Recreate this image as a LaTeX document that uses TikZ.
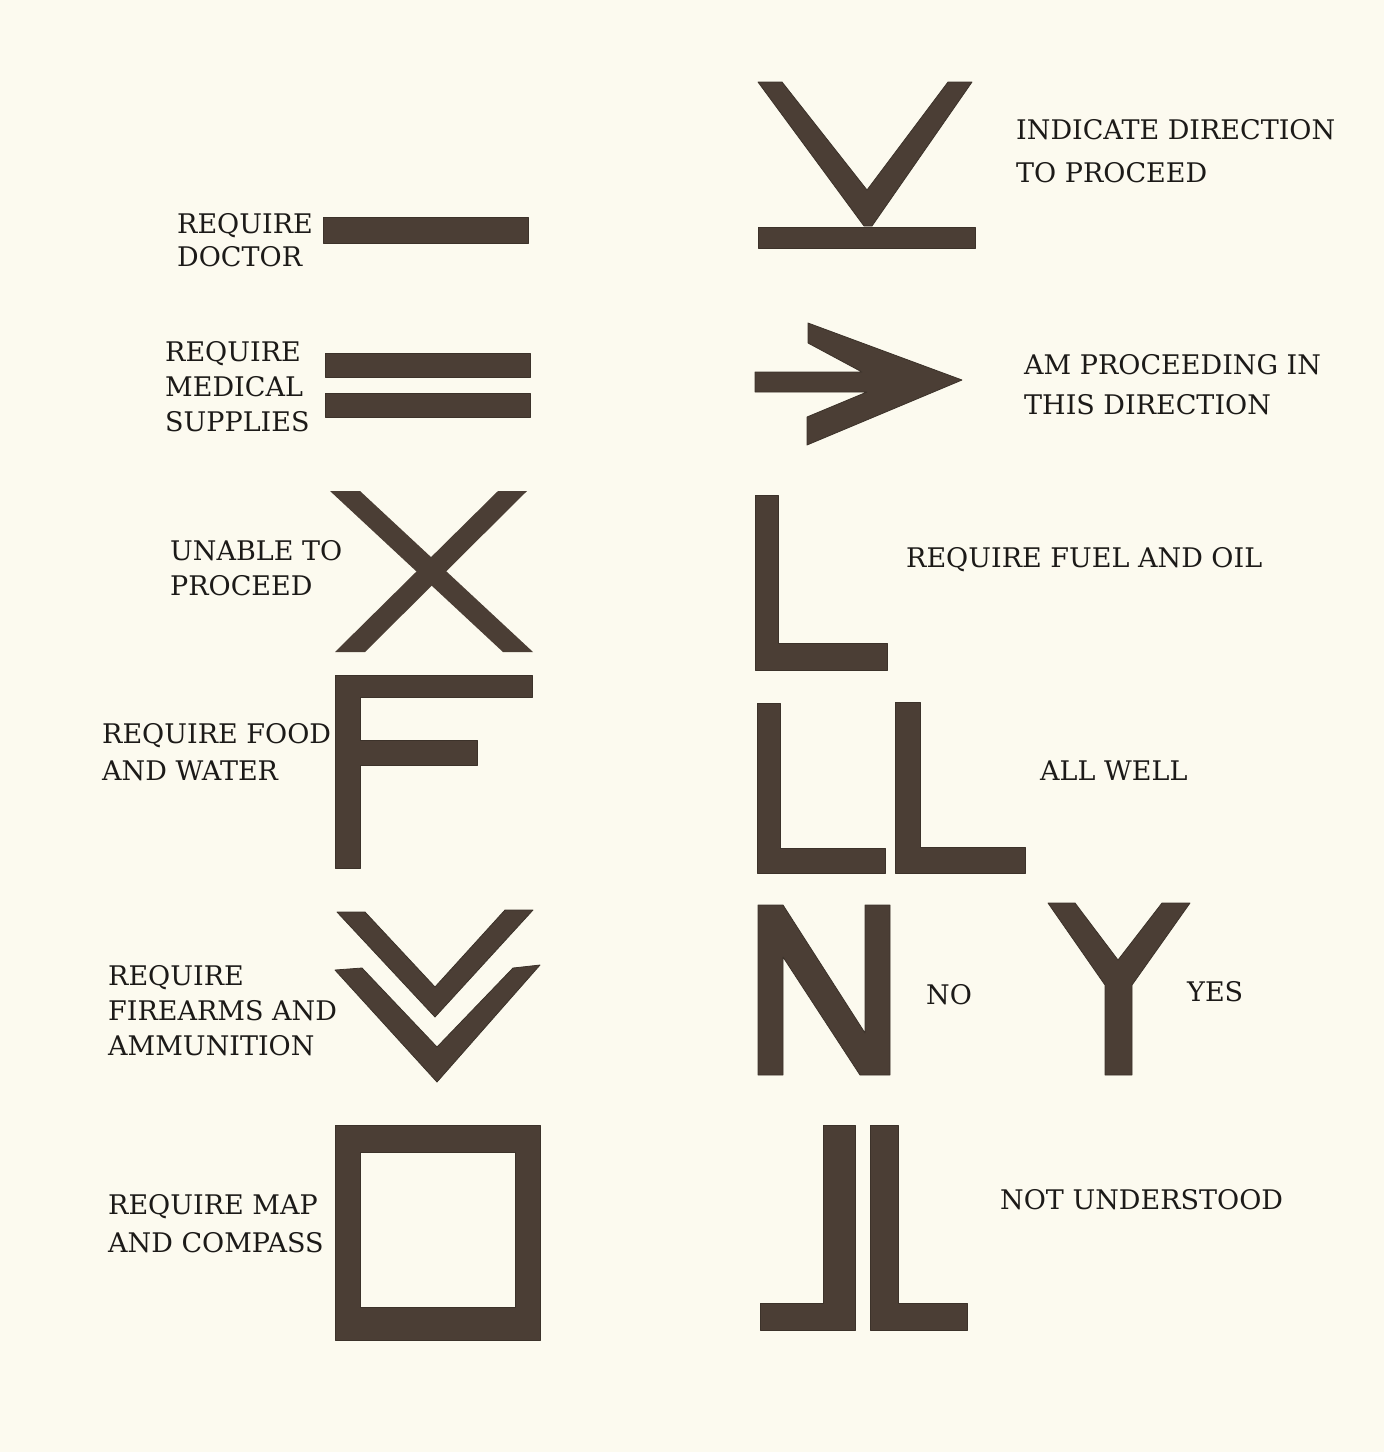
\documentclass[tikz,border=0pt]{standalone}
\usepackage{fontspec}
\setmainfont{DejaVu Serif}
\usepackage{tikz}
\definecolor{paper}{HTML}{FCFAEF}
\definecolor{sig}{HTML}{4B3E35}
\definecolor{ink}{HTML}{1C1A18}
\tikzset{
  sigshape/.style={fill=sig, draw=sig!80!black, line width=0.8pt, line join=round},
  lbl/.style={anchor=base west, inner sep=0pt, align=left, text=ink,
    font=\fontsize{27}{#1}\selectfont},
  lbl/.default=35
}
\begin{document}
\begin{tikzpicture}[x=1pt,y=-1pt]
\path[use as bounding box, fill=paper] (0,0) rectangle (1384,1452);

% ---- left column symbols ----
\path[sigshape] (323,217) rectangle (528,243);
\path[sigshape] (325,353) rectangle (530,377);
\path[sigshape] (325,393) rectangle (530,417);
\fill[sig] (330,491) -- (360,491) -- (533,652) -- (503,652) -- cycle;
\fill[sig] (498,491) -- (527,491) -- (365,652) -- (335,652) -- cycle;
\path[sigshape] (335,675) -- (532,675) -- (532,697) -- (360,697) -- (360,740) -- (477,740)
  -- (477,765) -- (360,765) -- (360,868) -- (335,868) -- cycle;
\path[sigshape] (337,912) -- (365,912) -- (435,987) -- (505,910) -- (533,910) -- (435,1017) -- cycle;
\path[sigshape] (335,970) -- (362,968) -- (437,1047) -- (513,968) -- (540,965) -- (437,1082) -- cycle;
\path[sigshape, even odd rule] (335,1125) rectangle (540,1340) (360,1152) rectangle (515,1307);

% ---- right column symbols ----
\path[sigshape] (758,82) -- (782,82) -- (867,190) -- (948,82) -- (972,82) -- (872,226) -- (864,226) -- cycle;
\path[sigshape] (758,227) rectangle (975,248);
\path[sigshape] (755,372) -- (862,372) -- (808,343) -- (808,323) -- (962,380) -- (807,445)
  -- (807,417) -- (867,392) -- (755,392) -- cycle;
\path[sigshape] (755,495) -- (778,495) -- (778,643) -- (887,643) -- (887,670) -- (755,670) -- cycle;
\path[sigshape] (757,703) -- (780,703) -- (780,848) -- (885,848) -- (885,873) -- (757,873) -- cycle;
\path[sigshape] (895,702) -- (920,702) -- (920,847) -- (1025,847) -- (1025,873) -- (895,873) -- cycle;
\path[sigshape] (758,905) -- (783,905) -- (865,1033) -- (865,905) -- (890,905) -- (890,1075)
  -- (860,1075) -- (783,957) -- (783,1075) -- (758,1075) -- cycle;
\path[sigshape] (1048,903) -- (1075,903) -- (1118,960) -- (1162,903) -- (1190,903) -- (1132,985)
  -- (1132,1075) -- (1105,1075) -- (1105,985) -- cycle;
\path[sigshape] (823,1125) -- (855,1125) -- (855,1330) -- (760,1330) -- (760,1303) -- (823,1303) -- cycle;
\path[sigshape] (870,1125) -- (898,1125) -- (898,1303) -- (967,1303) -- (967,1330) -- (870,1330) -- cycle;

% ---- labels (anchored at the baseline of the last line) ----
\node[lbl=33] (tdoc) at (177,266) {REQUIRE\\DOCTOR};
\node[lbl=35] (tmed) at (165,431) {REQUIRE\\MEDICAL\\SUPPLIES};
\node[lbl=35] (tunable) at (170,595) {UNABLE TO\\PROCEED};
\node[lbl=37] (tfood) at (102,780) {REQUIRE FOOD\\AND WATER};
\node[lbl=35] (tfire) at (108,1055) {REQUIRE\\FIREARMS AND\\AMMUNITION};
\node[lbl=38] (tmap) at (108,1252) {REQUIRE MAP\\AND COMPASS};
\node[lbl=43] (tdir) at (1016,182) {INDICATE DIRECTION\\TO PROCEED};
\node[lbl=40] (tproc) at (1024,414) {AM PROCEEDING IN\\THIS DIRECTION};
\node[lbl] (tfuel) at (906,567) {REQUIRE FUEL AND OIL};
\node[lbl] (twell) at (1040,780) {ALL WELL};
\node[lbl] (tno) at (926,1004) {NO};
\node[lbl] (tyes) at (1187,1001) {YES};
\node[lbl] (tnot) at (1000,1209) {NOT UNDERSTOOD};
\end{tikzpicture}
\end{document}
